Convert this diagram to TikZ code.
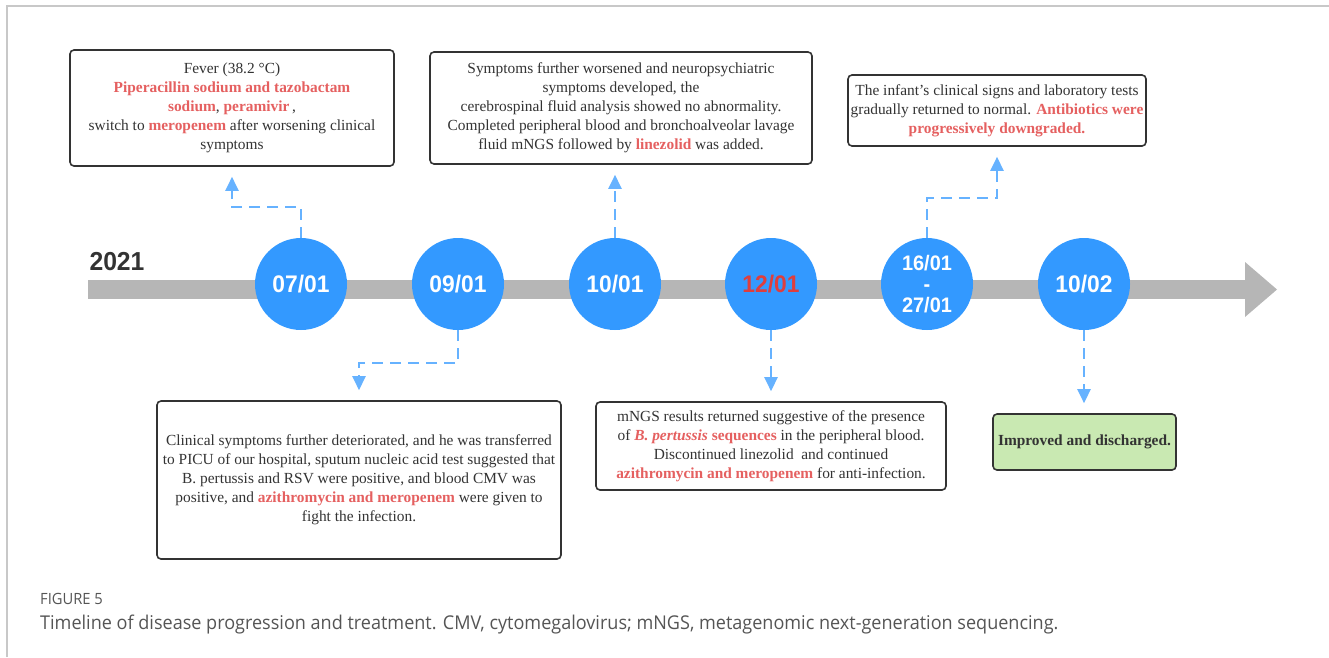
\documentclass[tikz,border=0pt]{standalone}
\usepackage{fontspec}
\usepackage{xcolor}
\usetikzlibrary{arrows.meta}

\setmainfont{Liberation Serif}
\newfontfamily\datefont[FakeStretch=0.95]{Liberation Sans}
\newfontfamily\capfont[FakeStretch=0.95]{Open Sans}

\definecolor{dotblue}{RGB}{51,153,255}
\definecolor{linkblue}{RGB}{102,178,255}
\definecolor{bargray}{RGB}{182,182,182}
\definecolor{framegray}{RGB}{200,200,200}
\definecolor{boxline}{RGB}{51,51,51}
\definecolor{txtgray}{RGB}{51,51,51}
\definecolor{hlred}{RGB}{229,96,96}
\definecolor{datered}{RGB}{222,62,62}
\definecolor{okgreen}{RGB}{201,233,178}
\definecolor{capgray}{RGB}{85,85,85}

\newcommand{\redbf}[1]{\textbf{\textcolor{hlred}{#1}}}

\tikzset{
  note/.style={draw=boxline, line width=1.6pt, rounded corners=4pt, fill=white,
    align=center, text=txtgray, inner sep=0pt,
    font=\fontsize{15.4}{19}\selectfont},
  day/.style={circle, fill=dotblue, minimum size=92pt, inner sep=0pt,
    text=white, align=center,
    font=\datefont\bfseries\fontsize{24}{20}\selectfont},
  link/.style={draw=linkblue, line width=2.4pt, dash pattern=on 11pt off 7pt,
    -{Triangle[width=13pt,length=14pt]}, shorten >=10pt},
}

\begin{document}
\begin{tikzpicture}[x=1pt,y=-1pt]
\useasboundingbox (0,0) rectangle (1329,657);

% Frame
\draw[framegray, line width=1.5pt] (7,657) -- (7,6) -- (1329,6);

% Time axis
\fill[bargray] (88,280) rectangle (1245,299);
\fill[bargray] (1245,262) -- (1277,289.5) -- (1245,317) -- cycle;
\node[font=\datefont\bfseries\fontsize{26}{26}\selectfont, text=txtgray] (year) at (117,262) {2021};

% Dates
\node[day] (d0701) at (301,284) {07/01};
\node[day] (d0901) at (458,284) {09/01};
\node[day] (d1001) at (615,284) {10/01};
\node[day, text=datered] (d1201) at (771,284) {12/01};
\node[day, font=\datefont\bfseries\fontsize{21}{21}\selectfont] (d1601) at (927,284) {16/01\\-\\27/01};
\node[day] (d1002) at (1084,284) {10/02};

% Events above the axis
\node[note, minimum width=324pt, minimum height=116pt] (fever) at (232,108)
  {Fever (38.2 °C)\\
   \redbf{Piperacillin sodium and tazobactam}\\
   \redbf{sodium}, \redbf{peramivir}\,,\\
   switch to \redbf{meropenem} after worsening clinical\\
   symptoms};
\node[note, minimum width=382pt, minimum height=112pt] (csf) at (621,108)
  {Symptoms further worsened and neuropsychiatric\\
   symptoms developed, the\\
   cerebrospinal fluid analysis showed no abnormality.\\
   Completed peripheral blood and bronchoalveolar lavage\\
   fluid mNGS followed by \redbf{linezolid} was added.};
\node[note, minimum width=298pt, minimum height=71pt] (normal) at (997,110.5)
  {The infant's clinical signs and laboratory tests\\
   gradually returned to normal. \redbf{Antibiotics were}\\
   \redbf{progressively downgraded.}};

% Events below the axis
\node[note, minimum width=404pt, minimum height=158pt] (picu) at (359,480)
  {Clinical symptoms further deteriorated, and he was transferred\\
   to PICU of our hospital, sputum nucleic acid test suggested that\\
   B. pertussis and RSV were positive, and blood CMV was\\
   positive, and \redbf{azithromycin and meropenem} were given to\\
   fight the infection.};
\node[note, minimum width=350pt, minimum height=88pt] (mngs) at (771,446)
  {mNGS results returned suggestive of the presence\\
   of \redbf{\textit{B. pertussis} sequences} in the peripheral blood.\\
   Discontinued linezolid\ \ and continued\\
   \redbf{azithromycin and meropenem} for anti-infection.};
\node[note, fill=okgreen, minimum width=183pt, minimum height=56pt] (home) at (1084.5,442)
  {\textbf{Improved and discharged.}};

% Connectors
\draw[link] (d0701.north) -- ++(0,-31) -| (fever.south);
\draw[link] (d0901.south) -- ++(0,33) -| (picu.north);
\draw[link] (d1001.north) -- (d1001.north |- csf.south);
\draw[link] (d1201.south) -- (mngs.north);
\draw[link] (d1601.north) -- ++(0,-40) -| (normal.south);
\draw[link] (d1002.south) -- (d1002.south |- home.north);

% Caption
\node[anchor=base west, inner sep=0pt, text=capgray, font=\capfont\fontsize{15.5}{16}\selectfont] (figno) at (40,604) {FIGURE 5};
\node[anchor=base west, inner sep=0pt, text=capgray, font=\capfont\fontsize{19}{22}\selectfont] (caption) at (40,629)
  {Timeline of disease progression and treatment. CMV, cytomegalovirus; mNGS, metagenomic next-generation sequencing.};

\end{tikzpicture}
\end{document}
